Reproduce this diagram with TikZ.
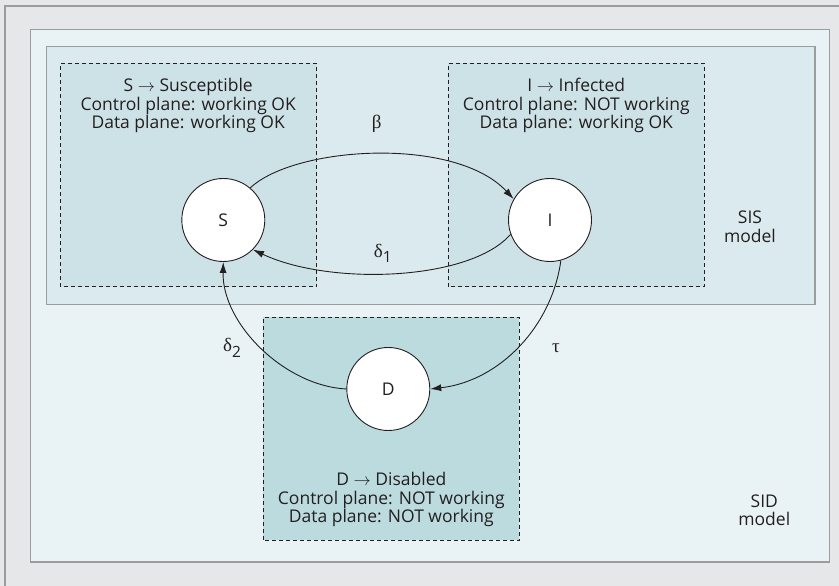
\documentclass[tikz,border=0pt]{standalone}
\usepackage{fontspec}
\setmainfont{Open Sans}
\newfontfamily\grk{Liberation Serif}
\usetikzlibrary{arrows.meta}
\definecolor{outerbg}{HTML}{E6E7E8}
\definecolor{sidbg}{HTML}{E9F3F6}
\definecolor{sisbg}{HTML}{DBEAEE}
\definecolor{statebg}{HTML}{CDE2E7}
\definecolor{dbg}{HTML}{BCDBDE}
\definecolor{frame}{HTML}{9A9C9E}
\definecolor{txt}{HTML}{231F20}
\tikzset{
  modelbox/.style={draw=frame, line width=1.2pt},
  statebox/.style={draw=txt, dashed, dash pattern=on 4pt off 3pt, line width=0.8pt},
  statenode/.style={circle, draw=txt, fill=white, line width=0.9pt, minimum size=83pt, inner sep=0pt, font=\fontsize{17.5}{18.5}\selectfont, text=txt},
  lbl/.style={align=center, font=\fontsize{17.5}{18.5}\selectfont, text=txt, inner sep=0pt},
  glbl/.style={font=\fontsize{19}{20}\selectfont, text=txt, inner sep=0pt},
  arr/.style={draw=txt, line width=0.9pt, -{Latex[length=11pt,width=7pt]}},
}
\begin{document}
\begin{tikzpicture}[x=1pt,y=1pt]
\useasboundingbox (0,0) rectangle (839,586);
\fill[outerbg] (0,0) rectangle (839,586);
\draw[frame, line width=1.2pt] (5,0) -- (5,580) -- (839,580);
% SID model box
\filldraw[modelbox, fill=sidbg] (30.7,24) rectangle (829.3,556.7);
% SIS model box
\filldraw[modelbox, fill=sisbg] (46.7,281.3) rectangle (815,539.3);
% state boxes
\filldraw[statebox, fill=statebg] (60.7,299.3) rectangle (316.7,522.7);
\filldraw[statebox, fill=statebg] (448.3,299.3) rectangle (704.3,522.7);
\filldraw[statebox, fill=dbg] (263.3,46) rectangle (519.3,268.7);
% texts
\node[lbl] (tS) at (188.2,480.5) {S $\rightarrow$ Susceptible\\Control plane: working OK\\Data plane: working OK};
\node[lbl] (tI) at (576.3,480.5) {I $\rightarrow$ Infected\\Control plane: NOT working\\Data plane: working OK};
\node[lbl] (tD) at (391.3,86.5) {D $\rightarrow$ Disabled\\Control plane: NOT working\\Data plane: NOT working};
\node[lbl] (sis) at (750,359) {SIS\\model};
\node[lbl] (sid) at (764.3,75.5) {SID\\model};
% states
\node[statenode] (S) at (223.3,366) {S};
\node[statenode] (I) at (550,366) {I};
\node[statenode] (D) at (388.3,197) {D};
% transitions
\draw[arr] (S.50) .. controls (295,440) and (455,450) .. (I.150);
\draw[arr] (I.200) .. controls (470,305) and (330,300) .. (S.-45);
\draw[arr] (D.180) .. controls (285,200) and (222,262) .. (S.-90);
\draw[arr] (I.-75) .. controls (552,260) and (500,205) .. (D.0);
% rate labels
\node[glbl] (beta) at (376.7,462) {{\grk β}};
\node[glbl] (d1) at (383,333) {{\grk δ}\textsubscript{\fontsize{15.5}{16}\selectfont 1}};
\node[glbl] (d2) at (232.3,238) {{\grk δ}\textsubscript{\fontsize{15.5}{16}\selectfont 2}};
\node[glbl] (tau) at (556,238) {{\grk τ}};
\end{tikzpicture}
\end{document}
